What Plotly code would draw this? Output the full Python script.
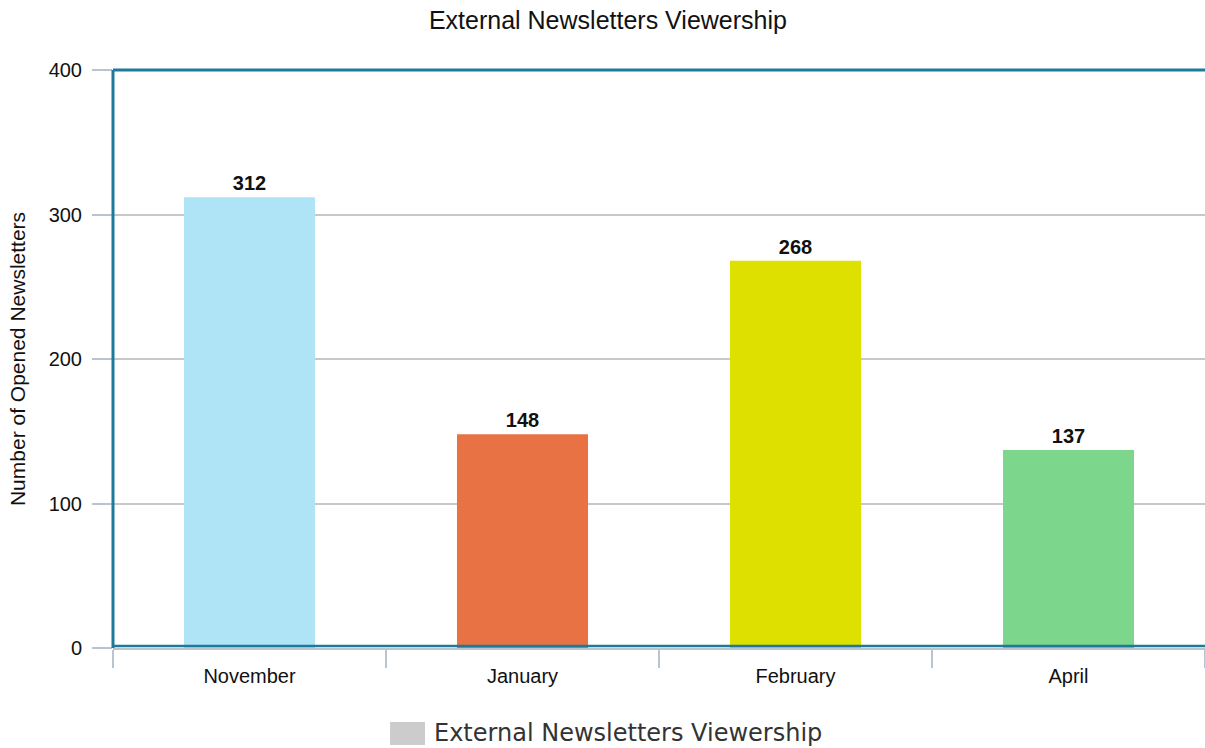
import plotly.graph_objects as go

months = ["November", "January", "February", "April"]
opened = [312, 148, 268, 137]
bar_colors = ["#aee4f5", "#e97244", "#dee000", "#7cd78c"]
y_ticks = [0, 100, 200, 300, 400]
series_name = "External Newsletters Viewership"

fig = go.Figure()
fig.add_trace(go.Bar(
    x=months, y=opened,
    marker=dict(color=bar_colors, line=dict(width=0)),
    width=0.48,
    text=opened, textposition="outside",
    textfont=dict(family="Liberation Sans", size=20, color="#111"),
    texttemplate="<b>%{text}</b>",
    cliponaxis=False,
    showlegend=False,
    name=series_name,
))

teal = "#1f7a99"
W, H = 1205, 748
PH = 578  # plot area height in px
fig.update_layout(
    width=W, height=H,
    margin=dict(l=113, r=0, t=70, b=100, autoexpand=False),
    paper_bgcolor="white", plot_bgcolor="white",
    font=dict(family="Liberation Sans", color="#111"),
    title=dict(text=series_name, x=0.5045, xanchor="center", y=1 - 20 / H, yanchor="middle",
               font=dict(family="Liberation Sans", size=25, color="#111")),
    bargap=0.52,
    showlegend=False,
    xaxis=dict(
        showline=True, linecolor="#b8c4d0", linewidth=1.5,
        ticks="outside", tickson="boundaries", ticklen=18, tickcolor="#b8c4d0", tickwidth=1.5,
        ticklabelstandoff=9,
        tickfont=dict(size=20, color="#111"),
        showgrid=False,
    ),
    yaxis=dict(
        range=[0, 400], tickvals=y_ticks,
        showgrid=True, gridcolor="#c8c8c8", gridwidth=1.5,
        zeroline=False,
        showline=False,
        ticks="outside", ticklen=20, tickcolor="#b8c4d0", tickwidth=1.5,
        ticklabelstandoff=6,
        tickfont=dict(size=20, color="#111"),
        title=dict(text="Number of Opened Newsletters", font=dict(size=21, color="#111"), standoff=17),
    ),
    shapes=[
        dict(type="line", xref="paper", yref="paper", x0=0, x1=1, y0=1, y1=1,
             line=dict(color=teal, width=3)),
        dict(type="line", xref="paper", yref="paper", x0=0, x1=0, y0=0, y1=1,
             line=dict(color=teal, width=3)),
        dict(type="line", xref="paper", yref="paper", ysizemode="pixel", yanchor=0,
             x0=0, x1=1, y0=2, y1=2, line=dict(color=teal, width=2.5)),
        # legend swatch
        dict(type="rect", xref="paper", yref="paper", x0=0.2537, x1=0.2857,
             y0=-97 / PH, y1=-74 / PH, fillcolor="#cccccc", line=dict(width=0)),
    ],
    annotations=[
        dict(text=series_name, xref="paper", yref="paper", x=0.2921, y=-85 / PH,
             xanchor="left", yanchor="middle", showarrow=False,
             font=dict(family="DejaVu Sans", size=24, color="#333")),
    ],
)

fig.write_html("out.html",
               config={"displayModeBar": False},
               post_script="document.body.style.margin='0';document.body.style.overflow='hidden';")
